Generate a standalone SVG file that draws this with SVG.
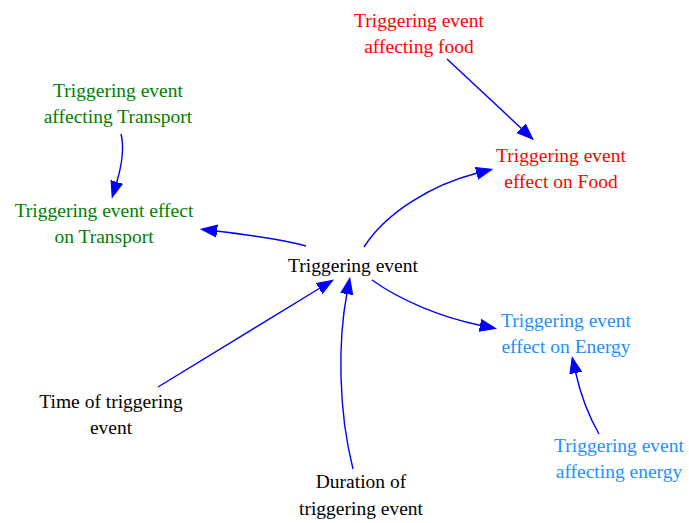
<svg xmlns="http://www.w3.org/2000/svg" width="689" height="523" viewBox="0 0 689 523">
  <style>
    text { font-family: "Liberation Serif", "Times New Roman", serif; font-size: 19.5px; text-anchor: middle; }
    .black { fill: #000000; }
    .red { fill: #ff0000; }
    .green { fill: #008000; }
    .blue { fill: #1e90ff; }
    .edge { fill: none; stroke: #0000ff; stroke-width: 1.4; marker-end: url(#arrow); }
  </style>
  <defs>
    <marker id="arrow" markerUnits="userSpaceOnUse" markerWidth="17" markerHeight="14" refX="1" refY="7" orient="auto" viewBox="0 0 17 14">
      <polygon points="0,1 16,7 0,13" fill="#0000ff" stroke="#0000ff" stroke-width="1"/>
    </marker>
  </defs>
  <rect width="689" height="523" fill="#ffffff"/>

  <g id="connectors">
    <path class="edge" d="M447,59 L522,129"/>
    <path class="edge" d="M364,247 C385,214 430,185 477.5,173"/>
    <path class="edge" d="M121,134 C125,150 121,168 116.5,183"/>
    <path class="edge" d="M306,246 C285,240 250,235 216,231"/>
    <path class="edge" d="M158,387 L320,288"/>
    <path class="edge" d="M353,469 C338,410 338,340 347,293"/>
    <path class="edge" d="M372,280 C400,300 440,317 481,325.5"/>
    <path class="edge" d="M599,434 C588,415 580,392 575.5,372"/>
  </g>

  <g id="food_source">
    <text class="red" x="419" y="27">Triggering event</text>
    <text class="red" x="419" y="53">affecting food</text>
  </g>
  <g id="food_effect">
    <text class="red" x="561" y="162">Triggering event</text>
    <text class="red" x="561" y="188">effect on Food</text>
  </g>
  <g id="transport_source">
    <text class="green" x="118" y="97">Triggering event</text>
    <text class="green" x="118" y="123">affecting Transport</text>
  </g>
  <g id="transport_effect">
    <text class="green" x="104" y="217">Triggering event effect</text>
    <text class="green" x="104" y="243">on Transport</text>
  </g>
  <g id="triggering_event">
    <text class="black" x="353" y="272">Triggering event</text>
  </g>
  <g id="energy_effect">
    <text class="blue" x="566" y="327">Triggering event</text>
    <text class="blue" x="566" y="353">effect on Energy</text>
  </g>
  <g id="energy_source">
    <text class="blue" x="619" y="452">Triggering event</text>
    <text class="blue" x="619" y="478">affecting energy</text>
  </g>
  <g id="time_of_event">
    <text class="black" x="111" y="408">Time of triggering</text>
    <text class="black" x="111" y="434">event</text>
  </g>
  <g id="duration_of_event">
    <text class="black" x="361" y="488">Duration of</text>
    <text class="black" x="361" y="515">triggering event</text>
  </g>
</svg>
